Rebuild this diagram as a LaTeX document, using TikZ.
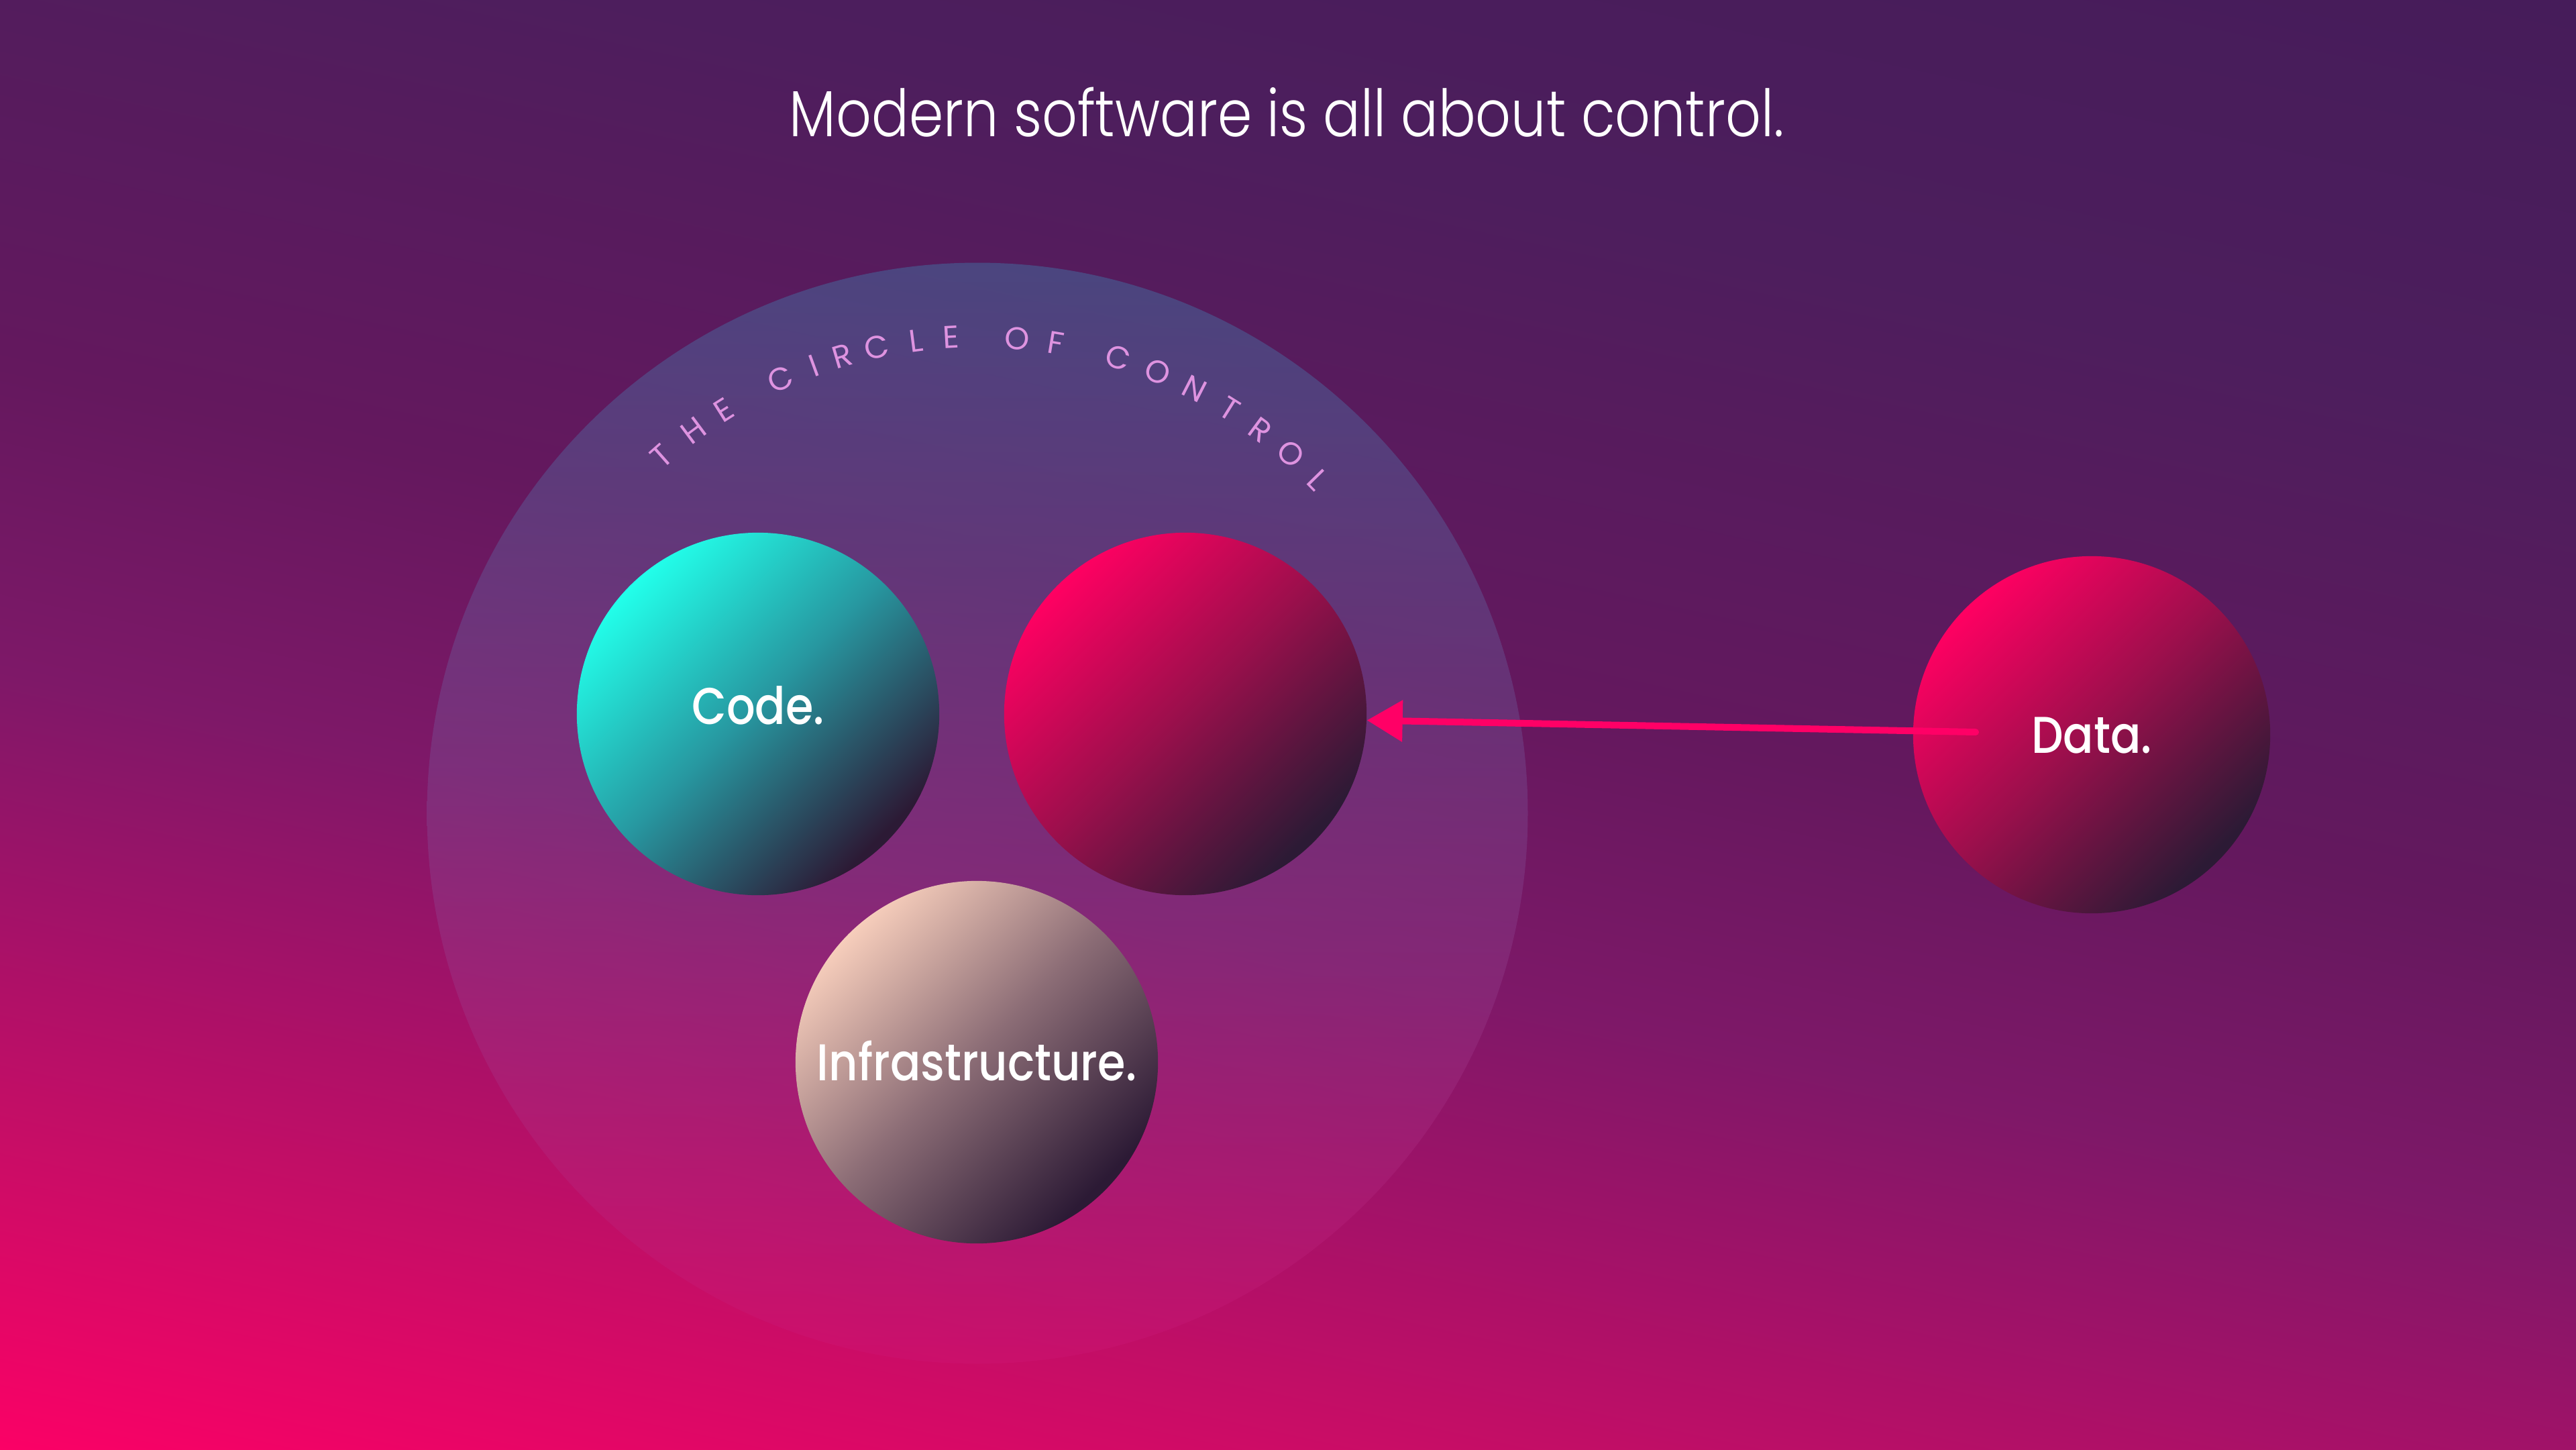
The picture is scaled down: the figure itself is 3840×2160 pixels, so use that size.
\documentclass[tikz,border=0pt]{standalone}
\usepackage{fontspec}
\usetikzlibrary{arrows.meta,calc}
\IfFontExistsTF{Poppins Light}{\newfontfamily\ttlfont{Poppins Light}[FakeStretch=0.85]}{\newfontfamily\ttlfont{Poppins}[FakeStretch=0.85]}
\IfFontExistsTF{Poppins Medium}{\newfontfamily\lblfont{Poppins Medium}[FakeStretch=0.87]}{\newfontfamily\lblfont{Poppins}[FakeStretch=0.87]}
\newfontfamily\arcfont{Poppins}

\definecolor{bgA}{HTML}{FF0066}
\definecolor{bgB}{HTML}{C80D66}
\definecolor{bgC}{HTML}{A01268}
\definecolor{bgD}{HTML}{7E1868}
\definecolor{bgE}{HTML}{64185E}
\definecolor{bgF}{HTML}{4D1E5D}
\definecolor{bgG}{HTML}{461C5A}
\definecolor{sdark}{HTML}{2C1A35}
\definecolor{codeA}{HTML}{22FFEA}
\definecolor{codeM}{HTML}{2797A0}
\definecolor{redA}{HTML}{FF0062}
\definecolor{redM}{HTML}{9C0F4C}
\definecolor{infA}{HTML}{F6CDBB}
\definecolor{infM}{HTML}{8C6D76}
\definecolor{ovTop}{RGB}{52,166,207}
\definecolor{ovBot}{RGB}{207,23,120}
\definecolor{arrowpink}{HTML}{FF0066}
\definecolor{arcpink}{HTML}{DE93E0}

\pgfdeclareverticalshading{bgshade}{100bp}{color(0bp)=(bgA); color(25bp)=(bgA); color(33.1bp)=(bgB); color(39.2bp)=(bgC); color(44.5bp)=(bgD); color(51.9bp)=(bgE); color(64bp)=(bgF); color(74.4bp)=(bgG); color(100bp)=(bgG)}
\pgfdeclareverticalshading{codeshade}{100bp}{color(0bp)=(sdark); color(26bp)=(sdark); color(51bp)=(codeM); color(75bp)=(codeA); color(100bp)=(codeA)}
\pgfdeclareverticalshading{redshade}{100bp}{color(0bp)=(sdark); color(26bp)=(sdark); color(51bp)=(redM); color(75bp)=(redA); color(100bp)=(redA)}
\pgfdeclareverticalshading{infshade}{100bp}{color(0bp)=(sdark); color(26bp)=(sdark); color(51bp)=(infM); color(75bp)=(infA); color(100bp)=(infA)}

\tikzset{
  sphere/.style={circle, minimum size=5.4cm, inner sep=0pt, shade, shading angle=45,
    text=white, font=\lblfont\fontsize{21.9pt}{24pt}\selectfont, text height=0.54cm, text depth=0pt},
  arcletter/.style={text=arcpink, inner sep=0pt, font=\arcfont\fontsize{13.4pt}{15pt}\selectfont,
    text height=0.33cm, text depth=0pt},
  flow/.style={draw=arrowpink, line width=0.1cm, line cap=round, -{Triangle[length=0.53cm,width=0.6cm]}},
  bigcirc/.style={circle, minimum size=16.4cm, inner sep=0pt, top color=ovTop, bottom color=ovBot, fill opacity=0.3}
}

\begin{document}
\begin{tikzpicture}[x=0.01cm,y=0.01cm]
\useasboundingbox (0,0) rectangle (3840,-2160);
% background
\begin{scope}
  \clip (0,0) rectangle (3840,-2160);
  \begin{scope}[transform canvas={rotate around={-12.3:(1920,-1080)}}]
    \shade[shading=bgshade] (-380,-2580) rectangle (4220,420);
  \end{scope}
\end{scope}

% circle of control
\node[bigcirc] (circ) at (1457,-1212) {};

\foreach \a/\ch [count=\i] in {131.5/T,126.6/H,122.2/E,114.4/C,110.1/I,106.5/R,102.2/C,97.4/L,93.2/E,85.2/O,80.5/F,72.8/C,67.8/O,62.9/N,58.0/T,53.6/R,48.9/O,44.4/L}
  \node[arcletter, rotate=\a-90] (arc\i) at ($(circ.center)+(\a:7.1cm)$) {\ch};

% title
\node[font=\ttlfont\fontsize{27.6pt}{30pt}\selectfont, text=white, anchor=base, inner sep=0pt] (title) at (1918,-203) {Modern software is all about control.};

% spheres
\node[sphere, shading=codeshade, text height=0.30cm] (code) at (1130,-1064) {Code.};
\node[sphere, shading=redshade] (ctrl) at (1767,-1064) {};
\node[sphere, shading=infshade] (infra) at (1456,-1583) {Infrastructure.};
\node[sphere, shading=redshade, minimum size=5.32cm] (data) at (3118,-1095) {Data.};

% connector
\draw[flow] ($(data.center)+(-173,4)$) -- (ctrl.-2);
\end{tikzpicture}
\end{document}
